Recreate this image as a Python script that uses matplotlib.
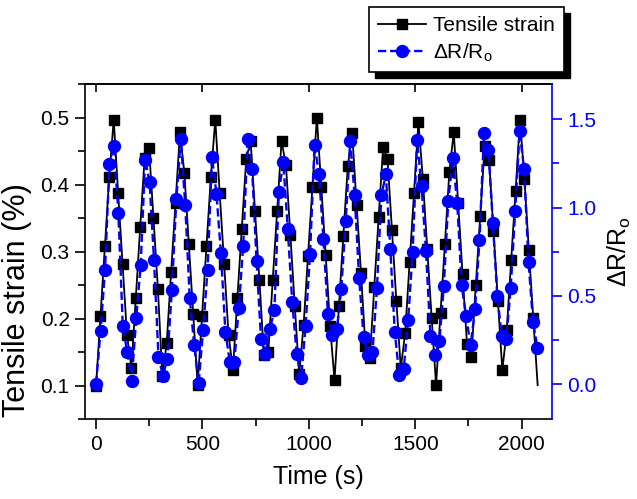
import matplotlib
matplotlib.use('Agg')
import matplotlib.pyplot as plt
from matplotlib.patches import Rectangle
from matplotlib.ticker import MultipleLocator
import numpy as np

plt.rcParams['font.family'] = ['Liberation Sans', 'DejaVu Sans']
plt.rcParams['mathtext.default'] = 'regular'

# tensile strain (%) sampled every ~20.75 s
strain = [0.100, 0.204, 0.308, 0.412, 0.497, 0.387, 0.282, 0.176, 0.127, 0.231,
          0.337, 0.440, 0.454, 0.350, 0.245, 0.115, 0.164, 0.270, 0.373, 0.478,
          0.417, 0.312, 0.207, 0.101, 0.204, 0.308, 0.412, 0.497, 0.387, 0.282,
          0.176, 0.124, 0.231, 0.334, 0.438, 0.465, 0.360, 0.257, 0.146, 0.150,
          0.257, 0.360, 0.465, 0.429, 0.325, 0.219, 0.117, 0.191, 0.294, 0.397,
          0.500, 0.397, 0.295, 0.189, 0.108, 0.219, 0.324, 0.427, 0.477, 0.370,
          0.268, 0.159, 0.141, 0.247, 0.352, 0.456, 0.438, 0.333, 0.227, 0.126,
          0.179, 0.284, 0.387, 0.494, 0.409, 0.304, 0.201, 0.101, 0.209, 0.312,
          0.419, 0.478, 0.372, 0.266, 0.162, 0.143, 0.251, 0.353, 0.457, 0.437,
          0.331, 0.226, 0.123, 0.183, 0.287, 0.390, 0.497, 0.409, 0.303, 0.201,
          0.101]
dt_strain = 20.75

# relative resistance change dR/Ro
dRR = [0.00, 0.30, 0.645, 1.248, 1.350, 0.971, 0.326, 0.181, 0.019, 0.372,
       0.673, 1.270, 1.145, 0.701, 0.153, 0.047, 0.144, 0.533, 1.046, 1.388,
       1.014, 0.490, 0.223, 0.004, 0.306, 0.645, 1.285, 1.079, 0.743, 0.297,
       0.125, 0.125, 0.428, 0.784, 1.388, 1.219, 0.696, 0.253, 0.172, 0.309,
       0.421, 1.089, 1.257, 0.877, 0.466, 0.172, 0.036, 0.331, 0.739, 1.356,
       1.188, 0.821, 0.397, 0.275, 0.309, 0.541, 0.926, 1.375, 1.070, 0.602,
       0.266, 0.167, 0.182, 0.546, 1.070, 1.188, 0.765, 0.294, 0.051, 0.084,
       0.365, 0.746, 1.382, 1.120, 0.752, 0.271, 0.167, 0.241, 0.556, 1.038,
       1.281, 1.027, 0.559, 0.383, 0.219, 0.425, 0.814, 1.420, 1.326, 0.911,
       0.496, 0.271, 0.253, 0.546, 0.982, 1.431, 1.219, 0.690, 0.354, 0.204]
dt_dRR = 20.95

t_strain = np.arange(len(strain)) * dt_strain
t_dRR = np.arange(len(dRR)) * dt_dRR

fig = plt.figure(figsize=(6.37, 4.99), dpi=100)
ax = fig.add_axes([85/637, 1-419.3/499, (551.7-85)/637, (419.3-84)/499])
ax2 = ax.twinx()

l1, = ax.plot(t_strain, strain, '-', color='k', lw=1.3, marker='s', ms=6.9,
              markevery=slice(0, len(strain)-1), label='Tensile strain')
l2, = ax2.plot(t_dRR, dRR, color='blue', ls=(0, (3.5, 1.6)), lw=1.7, marker='o',
               ms=8.6, label=r'$\Delta$R/R$_o$')

ax.set_xlim(-52, 2141)
ax.set_ylim(0.05, 0.55)
ax2.set_ylim(-0.2, 1.7)

ax.xaxis.set_major_locator(MultipleLocator(500))
ax.xaxis.set_minor_locator(MultipleLocator(250))
ax.yaxis.set_major_locator(MultipleLocator(0.1))
ax.yaxis.set_minor_locator(MultipleLocator(0.05))
ax2.yaxis.set_major_locator(MultipleLocator(0.5))
ax2.yaxis.set_minor_locator(MultipleLocator(0.25))

ax.tick_params(which='major', direction='out', length=7, width=1.2, labelsize=15, pad=4)
ax.tick_params(which='minor', direction='out', length=5, width=1.2)
ax2.tick_params(which='major', direction='out', length=7, width=1.2, labelsize=15,
                colors='blue', pad=4)
ax2.tick_params(which='minor', direction='out', length=5, width=1.2, colors='blue')

for s in ['left', 'bottom', 'top']:
    ax.spines[s].set_linewidth(1.2)
ax.spines['right'].set_visible(False)
for s in ['left', 'bottom', 'top']:
    ax2.spines[s].set_visible(False)
ax2.spines['right'].set_color('blue')
ax2.spines['right'].set_linewidth(1.2)

top = ax.secondary_xaxis('top')
top.xaxis.set_major_locator(MultipleLocator(500))
top.tick_params(direction='in', length=6, width=1.2, labeltop=False)
top.spines['top'].set_linewidth(1.2)

ax.set_xlabel('Time (s)', fontsize=18, labelpad=8)
ax.set_ylabel('Tensile strain (%)', fontsize=22)
ax.yaxis.set_label_coords(-0.113, 0.355)
ax2.set_ylabel(r'$\Delta$R/R$_o$', fontsize=18, labelpad=7, rotation=90)

leg = fig.legend([l1, l2], ['Tensile strain', r'$\Delta$R/R$_o$'], loc='upper right',
                 bbox_to_anchor=(564/637, 1-7.3/499), bbox_transform=fig.transFigure,
                 fontsize=15, fancybox=False, edgecolor='k', framealpha=1,
                 handlelength=2.3, handletextpad=0.35, borderpad=0.42,
                 labelspacing=0.3, borderaxespad=0)
leg.get_frame().set_linewidth(1.2)
leg.set_zorder(10)

# solid drop shadow behind the legend box
fig.canvas.draw()
bb = leg.get_frame().get_window_extent().transformed(fig.transFigure.inverted())
fig.patches.append(Rectangle((bb.x0 + 6/637, bb.y0 - 6/499), bb.width, bb.height,
                             transform=fig.transFigure, facecolor='k', edgecolor='k',
                             zorder=9, figure=fig))

fig.savefig('out.png', dpi=100)
